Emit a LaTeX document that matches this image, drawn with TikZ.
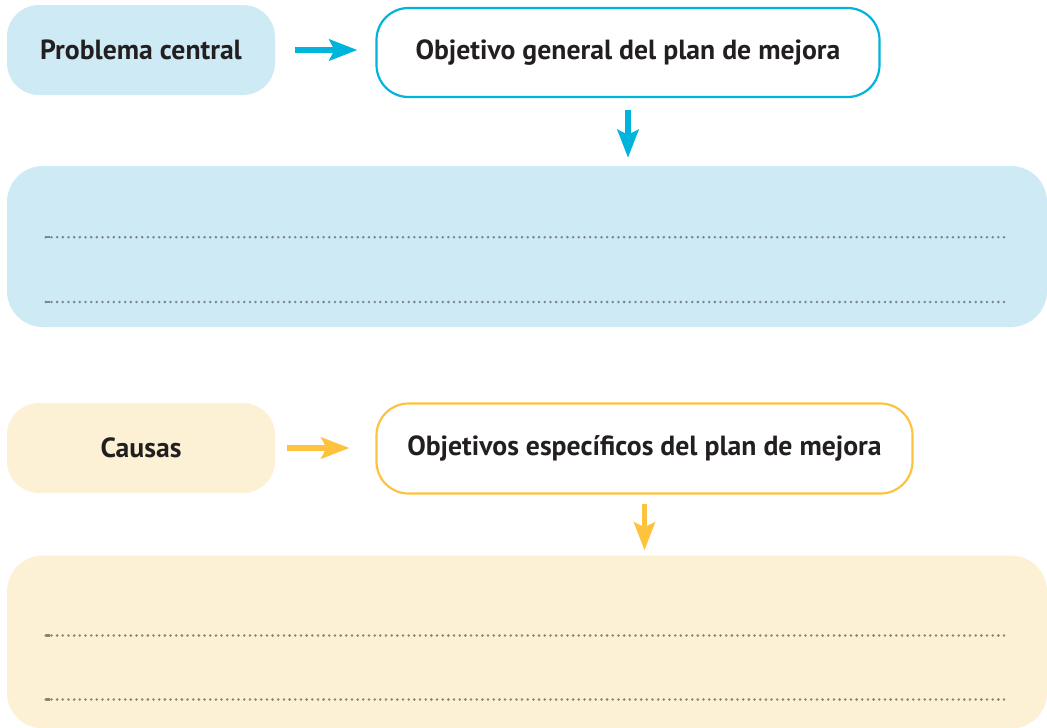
\documentclass[tikz,border=0pt]{standalone}
\usepackage{fontspec}
\setmainfont{PT Sans}
\usetikzlibrary{arrows.meta}
\definecolor{bluefill}{HTML}{CEEBF5}
\definecolor{cyanline}{HTML}{00B4DC}
\definecolor{yelfill}{HTML}{FCF0D5}
\definecolor{yelline}{HTML}{FDC33E}
\definecolor{txt}{HTML}{231F20}
\definecolor{dotb}{HTML}{7A868B}
\definecolor{doty}{HTML}{8A8375}
\tikzset{
  lbl/.style={font=\fontsize{27.7}{32}\selectfont\bfseries, text=txt, inner sep=0pt},
  smallbox/.style={lbl, rounded corners=32pt, minimum height=90pt},
  bigbox/.style={rounded corners=36pt, inner sep=0pt},
  arr/.style={line width=5.5pt, -{Stealth[length=28pt,width=21pt,inset=5pt]}},
  dotline/.style={line width=2.8pt, line cap=round, dash pattern=on 0pt off 5.67pt}
}
\begin{document}
\begin{tikzpicture}[x=1pt,y=-1pt]
\useasboundingbox (0,0) rectangle (1047,728);
% blue section
\node[smallbox, fill=bluefill, minimum width=268pt] (pc) at (141,50) {Problema central};
\node[smallbox, draw=cyanline, line width=2.2pt, fill=white, minimum width=503pt, minimum height=89pt] (og) at (628,52.5) {Objetivo general del plan de mejora};
\node[bigbox, fill=bluefill, minimum width=1040pt, minimum height=161pt] (gb) at (527,246.5) {};
\draw[arr, cyanline, shorten <=20pt, shorten >=18pt] (pc.east) -- (pc.east -| og.west);
\draw[arr, cyanline, shorten <=12pt, shorten >=8pt] (og.south) -- (og.south |- gb.north);
\coordinate (g1a) at ([xshift=39pt,yshift=9.3pt]gb.west);
\coordinate (g1b) at ([xshift=-39pt,yshift=9.3pt]gb.east);
\coordinate (g2a) at ([xshift=39pt,yshift=-55.5pt]gb.west);
\coordinate (g2b) at ([xshift=-39pt,yshift=-55.5pt]gb.east);
\draw[dotb, line width=2.4pt] (g1a) -- ++(4,0);
\draw[dotb, line width=2.4pt] (g2a) -- ++(4,0);
\draw[dotline, dotb] (g1a) -- (g1b);
\draw[dotline, dotb] (g2a) -- (g2b);
% yellow section
\node[smallbox, fill=yelfill, minimum width=268pt] (ca) at (141,448) {Causas};
\node[smallbox, draw=yelline, line width=2.2pt, fill=white, minimum width=536pt, minimum height=90pt] (oe) at (644.5,448.5) {Objetivos específicos del plan de mejora};
\node[bigbox, fill=yelfill, minimum width=1040pt, minimum height=173pt] (eb) at (527,642) {};
\draw[arr, yelline, shorten <=12pt, shorten >=26pt] (ca.east) -- (ca.east -| oe.west);
\draw[arr, yelline, shorten <=9pt, shorten >=5pt] (oe.south) -- (oe.south |- eb.north);
\coordinate (e1a) at ([xshift=39pt,yshift=6.5pt]eb.west);
\coordinate (e1b) at ([xshift=-39pt,yshift=6.5pt]eb.east);
\coordinate (e2a) at ([xshift=39pt,yshift=-57.5pt]eb.west);
\coordinate (e2b) at ([xshift=-39pt,yshift=-57.5pt]eb.east);
\draw[doty, line width=2.4pt] (e1a) -- ++(4,0);
\draw[doty, line width=2.4pt] (e2a) -- ++(4,0);
\draw[dotline, doty] (e1a) -- (e1b);
\draw[dotline, doty] (e2a) -- (e2b);
\end{tikzpicture}
\end{document}
